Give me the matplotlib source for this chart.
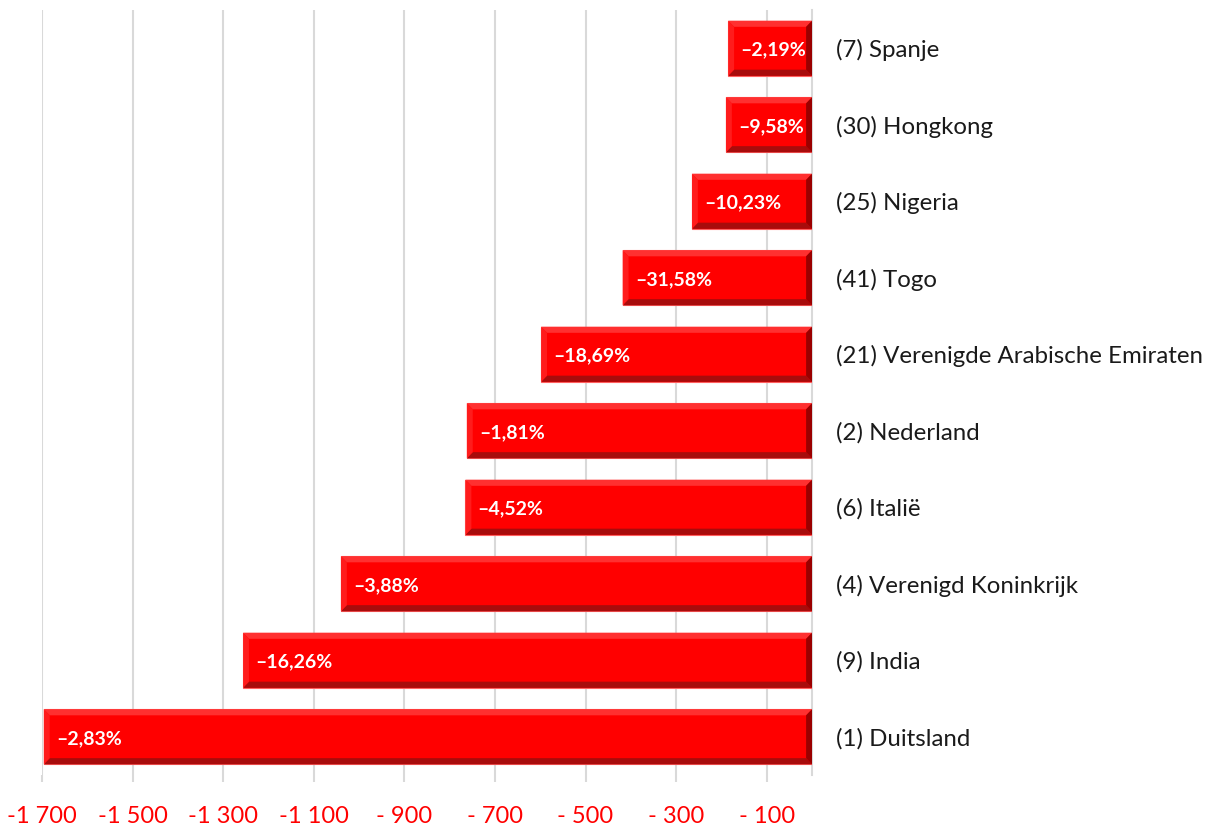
import matplotlib.pyplot as plt
from matplotlib.patches import Polygon

plt.rcParams['font.family'] = ['Lato', 'DejaVu Sans']

# data, top to bottom as shown
landen = ["(7) Spanje", "(30) Hongkong", "(25) Nigeria", "(41) Togo",
          "(21) Verenigde Arabische Emiraten", "(2) Nederland", "(6) Italië",
          "(4) Verenigd Koninkrijk", "(9) India", "(1) Duitsland"]
waarden = [-185, -190, -265, -418, -598, -762, -765, -1040, -1256, -1696]
procent = ["-2,19%", "-9,58%", "-10,23%", "-31,58%", "-18,69%", "-1,81%",
           "-4,52%", "-3,88%", "-16,26%", "-2,83%"]
xticks = [-1700, -1500, -1300, -1100, -900, -700, -500, -300, -100]
xlabels = ["-1 700", "-1 500", "-1 300", "-1 100", "- 900", "- 700",
           "- 500", "- 300", "- 100"]

fig = plt.figure(figsize=(12.24, 8.27), dpi=100)
ax = fig.add_axes([42 / 1224, 1 - 775 / 827, 770 / 1224, 765 / 827])

ax.set_xlim(-1700, 0)
ax.set_ylim(len(landen) - 0.5, -0.5)

h = 0.72
ys = list(range(len(landen)))
ax.barh(ys, waarden, height=h, color="#ff0000", edgecolor="#ff6060",
        linewidth=0.8, zorder=3)

# bevel randen (schuine kanten) per balk
dx = 13
dy = 0.08
for y, v in zip(ys, waarden):
    l, r = v, 0
    t, b = y - h / 2, y + h / 2  # y-as omgekeerd: t = boven
    bevels = [
        ([(l, t), (r, t), (r - dx, t + dy), (l + dx, t + dy)], "#ff3030"),
        ([(l, b), (r, b), (r - dx, b - dy), (l + dx, b - dy)], "#a80c0c"),
        ([(l, t), (l, b), (l + dx, b - dy), (l + dx, t + dy)], "#ff1c1c"),
        ([(r, t), (r, b), (r - dx, b - dy), (r - dx, t + dy)], "#9a0000"),
    ]
    for pts, c in bevels:
        ax.add_patch(Polygon(pts, closed=True, facecolor=c, edgecolor="none",
                             zorder=4))

for y, v, p in zip(ys, waarden, procent):
    ax.text(v + 27, y + 0.02, p.replace("-", "–"), color="white",
            fontsize=14, fontweight="bold", va="center", ha="left", zorder=5)

ax.set_xticks(xticks)
ax.set_xticklabels(xlabels, color="#ff0000", fontsize=17)
ax.tick_params(axis="x", length=5, color="#d9d9d9", width=1.5, pad=17)
ax.grid(axis="x", color="#d9d9d9", linewidth=1.5, zorder=0)

ax.yaxis.tick_right()
ax.set_yticks(ys)
ax.set_yticklabels(landen, fontsize=17.3, color="#1a1a1a")
ax.tick_params(axis="y", length=0, pad=17)

for s in ["top", "left", "bottom"]:
    ax.spines[s].set_visible(False)
ax.spines["right"].set_color("#d9d9d9")
ax.spines["right"].set_linewidth(1.5)

fig.savefig("out.png", dpi=100)
